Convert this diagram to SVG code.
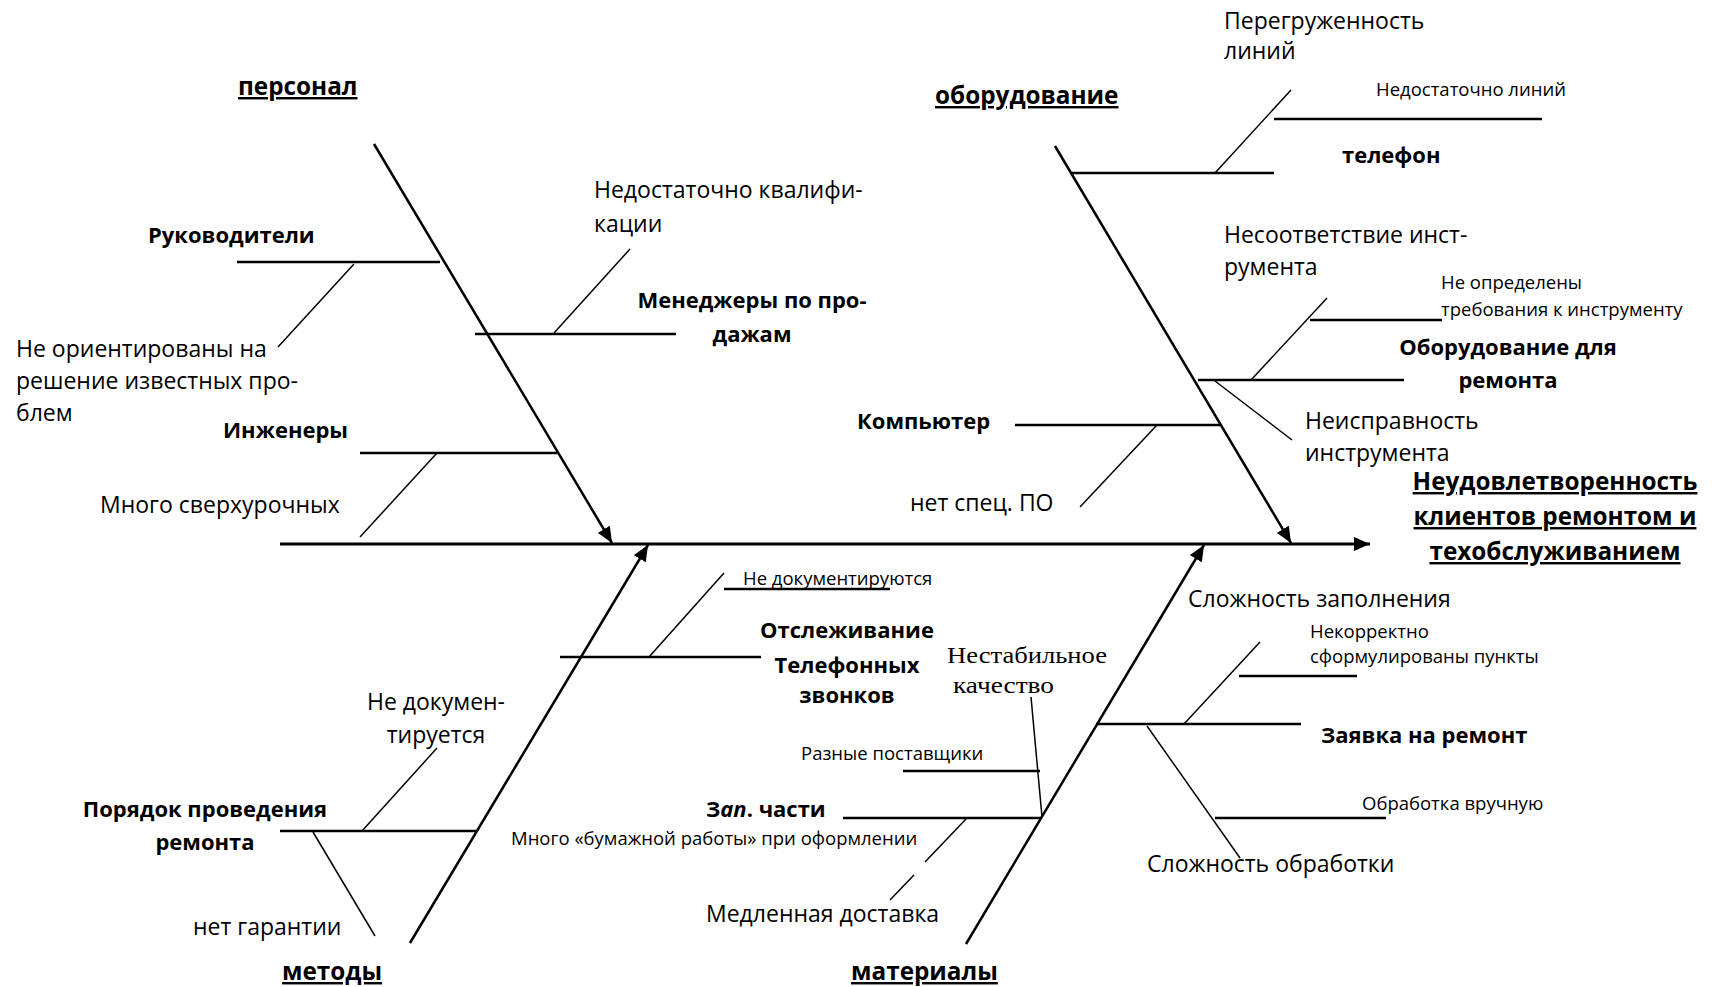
<svg xmlns="http://www.w3.org/2000/svg" width="1718" height="987" viewBox="0 0 1718 987">
<defs>
<marker id="ah" viewBox="0 0 16 14" refX="16" refY="7" markerWidth="16" markerHeight="14" markerUnits="userSpaceOnUse" orient="auto">
<path d="M0,0 L16,7 L0,14 z" fill="#000"/>
</marker>
<style>
text{font-family:"Open Sans","Noto Sans",sans-serif;fill:#000}
.r{font-size:23px}
.s{font-size:18.5px}
.b{font-size:22px;font-weight:bold}
.h{font-size:24.3px;font-weight:bold;text-decoration:underline}
.t{font-family:"Liberation Serif",serif;font-size:24px}
.m{text-anchor:middle}
.spine{stroke:#000;stroke-width:3;fill:none}
.bone{stroke:#000;stroke-width:2.5;fill:none}
.br{stroke:#000;stroke-width:2.5;fill:none}
.sb{stroke:#000;stroke-width:1.5;fill:none}
</style>
</defs>
<rect width="1718" height="987" fill="#fff"/>
<g id="connectors">
<line class="spine" x1="280" y1="544" x2="1370" y2="544" marker-end="url(#ah)"/>
<line class="bone" x1="374" y1="144" x2="612" y2="543" marker-end="url(#ah)"/>
<line class="bone" x1="1055" y1="146" x2="1291" y2="543" marker-end="url(#ah)"/>
<line class="bone" x1="410" y1="943" x2="648" y2="545" marker-end="url(#ah)"/>
<line class="bone" x1="966" y1="944" x2="1204" y2="545" marker-end="url(#ah)"/>
</g>
<g id="personnel">
<text class="h" x="238" y="95">персонал</text>
</g>
<g id="rukovoditeli">
<line class="br" x1="237" y1="262" x2="440" y2="262"/>
<line class="sb" x1="354" y1="264" x2="278" y2="347"/>
<text class="b" x="148" y="243">Руководители</text>
<text class="r" x="16" y="357">Не ориентированы на</text>
<text class="r" x="16" y="389">решение известных про-</text>
<text class="r" x="16" y="421">блем</text>
</g>
<g id="managers">
<line class="br" x1="475" y1="334" x2="676" y2="334"/>
<line class="sb" x1="554" y1="333" x2="630" y2="249"/>
<text class="r" x="594" y="198">Недостаточно квалифи-</text>
<text class="r" x="594" y="232">кации</text>
<text class="b m" x="752" y="308">Менеджеры по про-</text>
<text class="b m" x="752" y="342">дажам</text>
</g>
<g id="engineers">
<line class="br" x1="360" y1="453" x2="558" y2="453"/>
<line class="sb" x1="437" y1="453" x2="360" y2="537"/>
<text class="b" x="223" y="438">Инженеры</text>
<text class="r" x="100" y="513">Много сверхурочных</text>
</g>
<g id="equipment">
<text class="h" x="935" y="104">оборудование</text>
</g>
<g id="phone">
<line class="br" x1="1072" y1="173" x2="1274" y2="173"/>
<line class="sb" x1="1215" y1="173" x2="1291" y2="90"/>
<line class="br" x1="1274" y1="119" x2="1542" y2="119"/>
<text class="r" x="1224" y="29">Перегруженность</text>
<text class="r" x="1224" y="59">линий</text>
<text class="s" x="1376" y="96">Недостаточно линий</text>
<text class="b" x="1342" y="163">телефон</text>
</g>
<g id="repair-equipment">
<line class="br" x1="1198" y1="380" x2="1404" y2="380"/>
<line class="sb" x1="1251" y1="380" x2="1327" y2="298"/>
<line class="br" x1="1310" y1="320" x2="1442" y2="320"/>
<line class="sb" x1="1215" y1="381" x2="1292" y2="440"/>
<text class="r" x="1224" y="243">Несоответствие инст-</text>
<text class="r" x="1224" y="275">румента</text>
<text class="s" x="1441" y="289">Не определены</text>
<text class="s" x="1441" y="316">требования к инструменту</text>
<text class="b m" x="1508" y="355">Оборудование для</text>
<text class="b m" x="1508" y="388">ремонта</text>
<text class="r" x="1305" y="429">Неисправность</text>
<text class="r" x="1305" y="461">инструмента</text>
</g>
<g id="computer">
<line class="br" x1="1015" y1="425" x2="1220" y2="425"/>
<line class="sb" x1="1157" y1="425" x2="1080" y2="507"/>
<text class="b" x="857" y="429">Компьютер</text>
<text class="r" x="910" y="511">нет спец. ПО</text>
</g>
<g id="effect">
<text class="h m" x="1555" y="490">Неудовлетворенность</text>
<text class="h m" x="1555" y="525">клиентов ремонтом и</text>
<text class="h m" x="1555" y="560">техобслуживанием</text>
</g>
<g id="calls">
<line class="br" x1="560" y1="657" x2="761" y2="657"/>
<line class="sb" x1="649" y1="657" x2="724" y2="573"/>
<line class="br" x1="724" y1="589" x2="890" y2="589"/>
<text class="s" x="743" y="585">Не документируются</text>
<text class="b m" x="847" y="638">Отслеживание</text>
<text class="b m" x="847" y="673">Телефонных</text>
<text class="b m" x="847" y="703">звонков</text>
</g>
<g id="procedure">
<line class="br" x1="280" y1="831" x2="477" y2="831"/>
<line class="sb" x1="437" y1="748" x2="362" y2="831"/>
<line class="sb" x1="313" y1="832" x2="375" y2="936"/>
<text class="r m" x="436" y="710">Не докумен-</text>
<text class="r m" x="436" y="743">тируется</text>
<text class="b m" x="205" y="817">Порядок проведения</text>
<text class="b m" x="205" y="850">ремонта</text>
<text class="r" x="193" y="935">нет гарантии</text>
</g>
<g id="methods">
<text class="h" x="282" y="980">методы</text>
</g>
<g id="request">
<line class="br" x1="1096" y1="724" x2="1301" y2="724"/>
<line class="sb" x1="1184" y1="724" x2="1260" y2="642"/>
<line class="br" x1="1239" y1="676" x2="1357" y2="676"/>
<line class="sb" x1="1147" y1="726" x2="1240" y2="858"/>
<line class="br" x1="1215" y1="818" x2="1386" y2="818"/>
<text class="r" x="1188" y="607">Сложность заполнения</text>
<text class="s" x="1310" y="638">Некорректно</text>
<text class="s" x="1310" y="663">сформулированы пункты</text>
<text class="b" x="1321" y="743">Заявка на ремонт</text>
<text class="s" x="1362" y="810">Обработка вручную</text>
<text class="r" x="1147" y="872">Сложность обработки</text>
</g>
<g id="parts">
<line class="br" x1="843" y1="818" x2="1041" y2="818"/>
<line class="sb" x1="1031" y1="697" x2="1042" y2="817"/>
<line class="br" x1="903" y1="771" x2="1040" y2="771"/>
<line class="sb" x1="966" y1="819" x2="925" y2="862"/>
<line class="sb" x1="914" y1="875" x2="890" y2="900"/>
<text class="t" x="947" y="663" textLength="160" lengthAdjust="spacingAndGlyphs">Нестабильное</text>
<text class="t" x="953" y="693" textLength="101" lengthAdjust="spacingAndGlyphs">качество</text>
<text class="s" x="801" y="760">Разные поставщики</text>
<text class="b" x="706" y="817"><tspan>З</tspan><tspan font-style="italic">ап</tspan>. части</text>
<text class="s" x="511" y="845">Много «бумажной работы» при оформлении</text>
<text class="r" x="706" y="922">Медленная доставка</text>
</g>
<g id="materials">
<text class="h" x="851" y="980">материалы</text>
</g>
</svg>
